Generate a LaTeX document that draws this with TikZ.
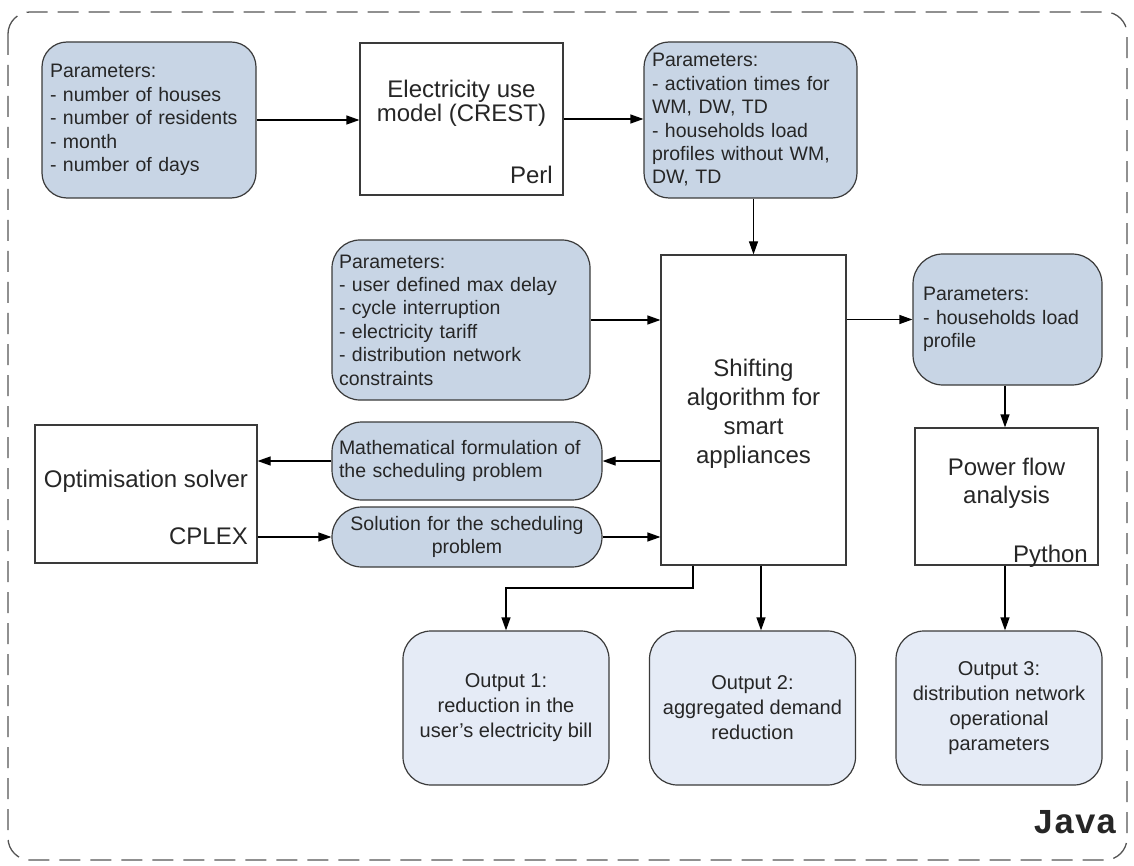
\documentclass[tikz,border=0pt]{standalone}
\usepackage{fontspec}
\setmainfont{Liberation Sans}
\setmonofont{Liberation Mono}
\usetikzlibrary{arrows.meta}
\definecolor{paramfill}{HTML}{C8D5E5}
\definecolor{outfill}{HTML}{E5EBF6}
\definecolor{edge}{HTML}{3A3A3A}
\definecolor{ink}{HTML}{262626}
\definecolor{framegray}{HTML}{555555}
\begin{document}
\begin{tikzpicture}[x=1pt,y=-1pt,
  bodyfont/.style={font=\fontsize{19.5}{23.4}\selectfont},
  param/.style={draw=edge, line width=1.2pt, fill=paramfill, rounded corners=#1,
    inner xsep=8pt, inner ysep=0pt, align=left, bodyfont, text=ink},
  param/.default=25pt,
  pill/.style={draw=edge, line width=1.2pt, fill=paramfill, rounded corners=30pt,
    inner xsep=7pt, inner ysep=0pt, bodyfont, text=ink},
  outbox/.style={draw=edge, line width=1.2pt, fill=outfill, rounded corners=28pt,
    minimum width=206pt, minimum height=154pt, inner sep=0pt, align=center,
    font=\fontsize{20}{25}\selectfont, text=ink},
  tool/.style={draw=edge, line width=1.2pt, fill=white, inner sep=0pt},
  title/.style={align=center, inner sep=0pt, text=ink},
  lang/.style={inner sep=0pt, text=ink, font=\fontsize{24}{24}\selectfont},
  conn/.style={draw=black, line width=1.2pt, -{Triangle[length=13pt,width=9pt]}},
  line/.style={draw=black, line width=1.2pt}
]
\useasboundingbox (0,0) rectangle (1134,866);

% outer Java container
\draw[framegray, line width=1.3pt, dash pattern=on 21pt off 10pt, rounded corners=22pt]
  (8,12) rectangle (1127,860);
\node[anchor=base east, inner sep=0pt, font=\ttfamily\bfseries\fontsize{35}{35}\selectfont, text=ink]
  (java) at (1117,833) {Java};

% input parameter boxes
\node[param, minimum height=156pt, text width=198pt] (p1) at (149,120)
  {Parameters:\\- number of houses\\- number of residents\\- month\\- number of days};
\node[param, minimum height=156pt, text width=197pt] (p2) at (750.5,120)
  {Parameters:\\- activation times for\\WM, DW, TD\\- households load\\profiles without WM,\\DW, TD};
\node[param=28pt, inner xsep=7pt, minimum height=160pt, text width=244pt] (p3) at (461,320)
  {Parameters:\\- user defined max delay\\- cycle interruption\\- electricity tariff\\- distribution network\\constraints};
\node[param=30pt, inner xsep=10pt, minimum height=131pt, text width=169pt] (p4) at (1007.5,319.5)
  {Parameters:\\- households load\\profile};

% exchange with the solver
\node[pill, align=left, minimum height=78pt, text width=256pt] (math) at (467,461)
  {Mathematical formulation of\\the scheduling problem};
\node[pill, align=center, minimum height=60pt, text width=256pt] (sol) at (467,537)
  {Solution for the scheduling\\problem};

% tools
\node[tool, minimum width=203pt, minimum height=152pt] (crest) at (461.5,119) {};
\node[title, font=\fontsize{24}{24}\selectfont] (crestT) at (461.5,103) {Electricity use\\model (CREST)};
\node[lang, anchor=base east] (crestL) at (553,184) {Perl};

\node[tool, minimum width=222pt, minimum height=138pt] (opt) at (146,494) {};
\node[title, anchor=base, font=\fontsize{24}{24}\selectfont] (optT) at (146,487) {Optimisation solver};
\node[lang, anchor=base east] (optL) at (248,544) {CPLEX};

\node[tool, minimum width=185pt, minimum height=310pt] (sh) at (753.5,410) {};
\node[title, font=\fontsize{24}{29}\selectfont] (shT) at (753.5,414) {Shifting\\algorithm for\\smart\\appliances};

\node[tool, minimum width=183pt, minimum height=137pt] (pf) at (1006.5,496.5) {};
\node[title, font=\fontsize{24}{28}\selectfont] (pfT) at (1006.5,483) {Power flow\\analysis};
\node[lang, anchor=base east] (pfL) at (1088,562) {Python};

% outputs
\node[outbox] (o1) at (506,708) {Output 1:\\reduction in the\\user's electricity bill};
\node[outbox] (o2) at (752.5,708) {Output 2:\\aggregated demand\\reduction};
\node[outbox] (o3) at (999,708) {Output 3:\\distribution network\\operational\\parameters};

% connectors
\coordinate (bend) at (693,588);
\coordinate (tap2) at (761,0);
\coordinate (tap3) at (1005,0);

\draw[conn] (p1.east) -- (p1.east -| crest.west);
\draw[conn] (crest.east) -- (crest.east -| p2.west);
\draw[conn] (sh.north |- p2.south) -- (sh.north);
\draw[conn] (p3.east) -- (p3.east -| sh.west);
\draw[conn] (sh.east |- p4.west) -- (p4.west);
\draw[conn] (p4.south -| tap3) -- (pf.north -| tap3);
\draw[conn] (sh.west |- math.east) -- (math.east);
\draw[conn] (math.west) -- (math.west -| opt.east);
\draw[conn] (opt.east |- sol.west) -- (sol.west);
\draw[conn] (sol.east) -- (sol.east -| sh.west);
\draw[conn] (bend |- sh.south) -- (bend) -| (o1.north);
\draw[conn] (sh.south -| tap2) -- (o2.north -| tap2);
\draw[conn] (pf.south -| tap3) -- (o3.north -| tap3);
\end{tikzpicture}
\end{document}
